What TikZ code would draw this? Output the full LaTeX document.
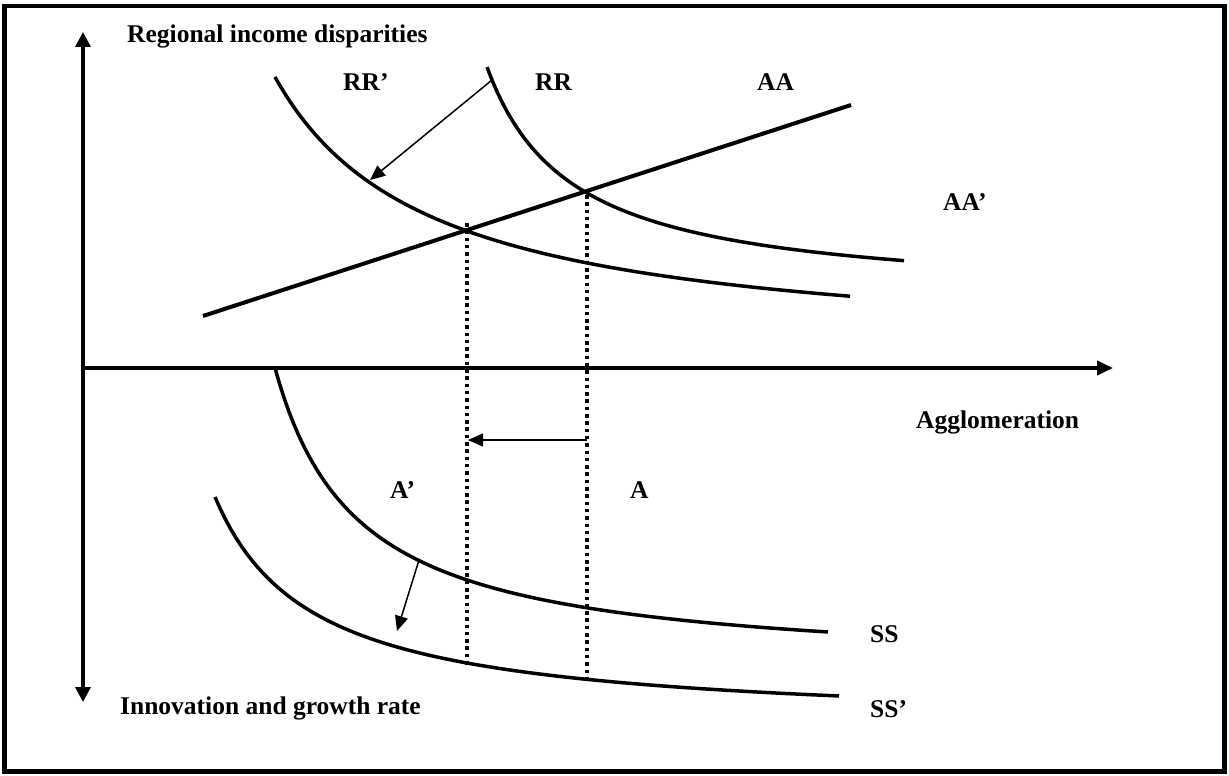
\documentclass[tikz,border=0pt]{standalone}
\usepackage{fontspec}
\setmainfont{Liberation Serif}
\usetikzlibrary{arrows.meta}
\begin{document}
\begin{tikzpicture}[x=1pt,y=-1pt,
  lbl/.style={anchor=base west,inner sep=0pt,font=\fontsize{25.5}{30}\selectfont\bfseries},
  axisline/.style={line width=3.3pt},
  curveline/.style={line width=3.5pt},
  dotline/.style={line width=3.3pt,dash pattern=on 3.5pt off 3.8pt},
  thinarrow/.style={line width=1.5pt,-{Triangle[length=15pt,width=13pt]}}]
\useasboundingbox (0,0) rectangle (1229,776);
\draw[line width=4.5pt] (4.5,6) rectangle (1224.5,771.5);

% axes
\coordinate (O) at (83,368);
\coordinate (Ytop) at (83,32);
\coordinate (Ybot) at (83,702);
\coordinate (Xend) at (1113,368);
\draw[axisline,{Triangle[length=15pt,width=15pt]}-{Triangle[length=15pt,width=15pt]}] (Ybot) -- (Ytop);
\draw[line width=4pt,-{Triangle[length=16pt,width=14pt]}] (O) -- (Xend);

% curves
\draw[curveline] plot[domain=275:850,samples=120] (\x,{355.3-431.37/((\x-120)/100)});
\draw[curveline] plot[domain=487:904,samples=120] (\x,{300.1-198.11/((\x-402)/100)});
\coordinate (AAs) at (203,316);
\coordinate (AAe) at (851,105);
\draw[line width=4pt] (AAs) -- (AAe);
\draw[curveline] plot[domain=275:828,samples=120] (\x,{671.6-252.02/((\x-192)/100)});
\draw[curveline] plot[domain=215:839,samples=120] (\x,{726.9-223/((\x-118)/100)});

% dotted verticals
\coordinate (L1) at (467,223);
\coordinate (L2) at (467,668);
\coordinate (R1) at (587,195);
\coordinate (R2) at (587,678);
\draw[dotline] (L1) -- (L2);
\draw[dotline] (R1) -- (R2);

% shift arrows
\coordinate (Ha) at (587,440);
\coordinate (Hb) at (468,440);
\draw[thinarrow] (Ha) -- (Hb);
\coordinate (Ra) at (492,80);
\coordinate (Rb) at (370,180);
\draw[thinarrow] (Ra) -- (Rb);
\coordinate (Sa) at (419,560);
\coordinate (Sb) at (397,631);
\draw[thinarrow] (Sa) -- (Sb);

% labels
\node[lbl] (t1) at (127,43) {Regional income disparities};
\node[lbl] (t2) at (343,90) {RR’};
\node[lbl] (t3) at (535,91) {RR};
\node[lbl] (t4) at (757,91) {AA};
\node[lbl] (t5) at (943,210) {AA’};
\node[lbl] (t6) at (916,428) {Agglomeration};
\node[lbl] (t7) at (390,498) {A’};
\node[lbl] (t8) at (630,498) {A};
\node[lbl] (t9) at (870,642) {SS};
\node[lbl] (t10) at (870,717) {SS’};
\node[lbl] (t11) at (120,714) {Innovation and growth rate};
\end{tikzpicture}
\end{document}
